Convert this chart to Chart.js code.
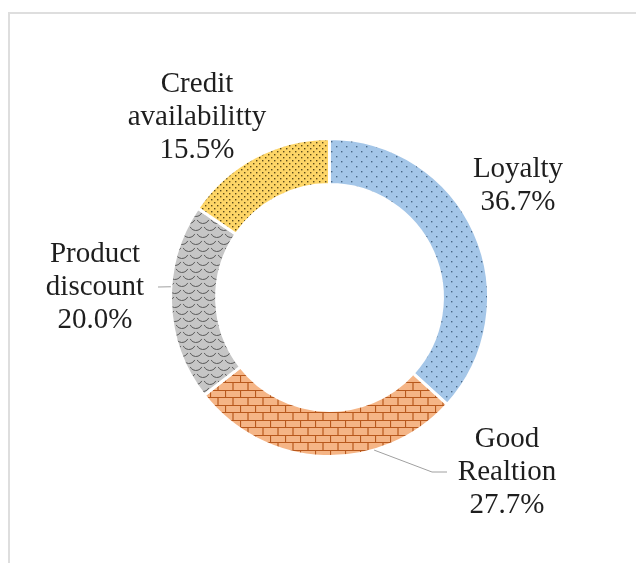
<!DOCTYPE html>
<html>
<head>
<meta charset="utf-8">
<script src="https://cdn.jsdelivr.net/npm/chart.js@4.4.0/dist/chart.umd.min.js"></script>
<style>
    html, body { margin: 0; padding: 0; background: #fff; }
    #wrap { position: relative; width: 636px; height: 563px; overflow: hidden; }
    #frame {
        position: absolute; left: 8px; top: 12px; right: -4px; bottom: -4px;
        border-top: 2px solid #dedede; border-left: 2px solid #dedede;
    }
    #doughnutChart { position: absolute; left: 0; top: 0; }
</style>
</head>
<body>
<div id="wrap">
    <div id="frame"></div>
    <canvas id="doughnutChart" width="636" height="563"></canvas>
</div>
<script>
const categories = ['Loyalty', 'Good Realtion', 'Product discount', 'Credit availabilitty'];
const shares = [36.7, 27.7, 20.0, 15.5];

// where each label sits, relative to the ring centre (centre x, first baseline)
const labelSpots = [[188.5, -120.5], [177.5, 149.5], [-234.5, -35.5], [-132.5, -205.5]];
// leader lines: point on the outer edge (fraction along the arc), then elbow(s)
const leaders = [null, { at: 0.315, path: [[102.5, 174.5], [117.5, 174.5]] }, { at: 0.58, path: [[-171.5, -10.5]] }, null];

function makeTile(w, h, draw) {
    const c = document.createElement('canvas');
    c.width = w;
    c.height = h;
    const g = c.getContext('2d');
    draw(g, w, h);
    return g.createPattern(c, 'repeat');
}

function dots(base, ink, step) {
    return makeTile(step * 2, step * 2, function (g, w, h) {
        g.fillStyle = base;
        g.fillRect(0, 0, w, h);
        g.fillStyle = ink;
        g.fillRect(1, 1, 1.4, 1.4);
        g.fillRect(step + 1, step + 1, 1.4, 1.4);
    });
}

function bricks(base, ink) {
    return makeTile(15, 15, function (g, w, h) {
        g.fillStyle = base;
        g.fillRect(0, 0, w, h);
        g.strokeStyle = ink;
        g.lineWidth = 1.2;
        g.beginPath();
        g.moveTo(0, 0.5); g.lineTo(w, 0.5);
        g.moveTo(0, 7.5); g.lineTo(w, 7.5);
        g.moveTo(0.5, 0); g.lineTo(0.5, 7.5);
        g.moveTo(8, 7.5); g.lineTo(8, 15);
        g.stroke();
    });
}

// overlapping scallops, drawn on a 14px tile
function scales(base, ink) {
    const s = 14, r = 6.5, a0 = Math.PI * 0.15, a1 = Math.PI * 0.85;
    return makeTile(s, s, function (g, w, h) {
        g.fillStyle = base;
        g.fillRect(0, 0, w, h);
        g.strokeStyle = ink;
        g.lineWidth = 1;
        [[s / 2, s / 2], [0, 0], [s, 0], [0, s], [s, s]].forEach(function (c) {
            g.beginPath();
            g.arc(c[0], c[1], r, a0, a1);
            g.stroke();
        });
    });
}

const fills = [
    dots('#a4c6e8', '#4a6786', 5),
    bricks('#f5b586', '#b8581c'),
    scales('#c6c6c6', '#5a5a5a'),
    dots('#fdd567', '#5a4a1a', 3)
];

// percentage labels with optional leader lines
const ringLabels = {
    id: 'ringLabels',
    afterDatasetsDraw(chart) {
        const ctx = chart.ctx;
        const arcs = chart.getDatasetMeta(0).data;
        ctx.save();
        arcs.forEach(function (arc, i) {
            const p = arc.getProps(['x', 'y', 'startAngle', 'endAngle', 'outerRadius'], true);
            const k = p.outerRadius / 159;
            const lead = leaders[i];
            if (lead) {
                const a = p.startAngle + (p.endAngle - p.startAngle) * lead.at;
                ctx.strokeStyle = '#a0a0a0';
                ctx.lineWidth = 1;
                ctx.beginPath();
                ctx.moveTo(p.x + Math.cos(a) * p.outerRadius, p.y + Math.sin(a) * p.outerRadius);
                lead.path.forEach(function (pt) {
                    ctx.lineTo(p.x + pt[0] * k, p.y + pt[1] * k);
                });
                ctx.stroke();
            }
            const lines = categories[i].split(' ').concat([shares[i].toFixed(1) + '%']);
            ctx.fillStyle = '#1e1e1e';
            ctx.font = '29px "Liberation Serif", "Times New Roman", serif';
            ctx.textAlign = 'center';
            ctx.textBaseline = 'alphabetic';
            lines.forEach(function (t, j) {
                ctx.fillText(t, p.x + labelSpots[i][0] * k, p.y + labelSpots[i][1] * k + j * 33);
            });
        });
        ctx.restore();
    }
};

const ctx = document.getElementById('doughnutChart').getContext('2d');
const doughnutChart = new Chart(ctx, {
    type: 'doughnut',
    data: {
        labels: categories,
        datasets: [{
            data: shares,
            backgroundColor: fills,
            borderColor: '#ffffff',
            borderWidth: 3
        }]
    },
    options: {
        responsive: false,
        animation: false,
        cutout: '71%',
        events: [],
        layout: {
            padding: { left: 169, right: 146, top: 137, bottom: 105 }
        },
        plugins: {
            legend: { display: false },
            tooltip: { enabled: false }
        }
    },
    plugins: [ringLabels]
});
</script>
</body>
</html>
